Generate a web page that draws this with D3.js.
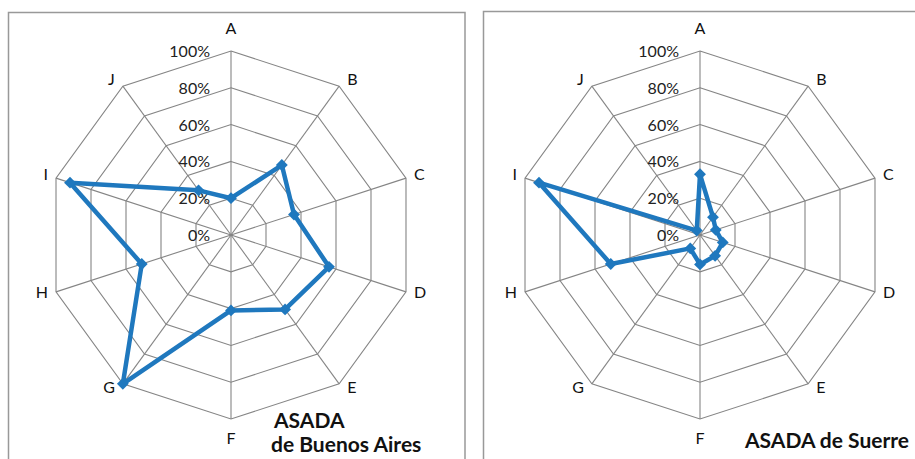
<!DOCTYPE html>
<html lang="es">
<head>
<meta charset="utf-8">
<title>ASADA radar</title>
<script src="https://cdn.jsdelivr.net/npm/d3@7"></script>
<style>
  body { margin: 0; background: #fff; }
  svg { display: block; }
</style>
</head>
<body>
<script>
// data (percent)
var categories = ["A", "B", "C", "D", "E", "F", "G", "H", "I", "J"];
var buenosAires = [20, 47, 36, 56, 50, 41, 100, 51, 92, 30];
var suerre = [33, 12, 9, 13, 14, 16, 9, 51, 92, 3];
var tickValues = [0, 20, 40, 60, 80, 100];

var width = 915, height = 459;
var radius = 184;
var blue = "#1f78be";

var svg = d3.select("body").append("svg")
    .attr("width", width)
    .attr("height", height);

// panel frames (bottom / right edges run off the picture)
svg.append("rect")
    .attr("x", 8.5).attr("y", 12.5)
    .attr("width", 456.5).attr("height", 470)
    .attr("fill", "none").attr("stroke", "#999").attr("stroke-width", 1.5);
svg.append("rect")
    .attr("x", 483.5).attr("y", 11.5)
    .attr("width", 470).attr("height", 470)
    .attr("fill", "none").attr("stroke", "#999").attr("stroke-width", 1.5);

var r = d3.scaleLinear().domain([0, 100]).range([0, radius]);
var angle = d3.scalePoint().domain(categories).range([0, 2 * Math.PI * (categories.length - 1) / categories.length]);

function drawRadar(cx, cy, values, titleLines, titleX, titleY) {
    var g = svg.append("g").attr("transform", "translate(" + cx + "," + cy + ")");

    // rings
    var ring = d3.lineRadial()
        .angle(function(d) { return angle(d); })
        .radius(function() { return 0; })
        .curve(d3.curveLinearClosed);
    tickValues.slice(1).forEach(function(t) {
        g.append("path")
            .attr("d", ring.radius(r(t))(categories))
            .attr("fill", "none")
            .attr("stroke", "#858585")
            .attr("stroke-width", 1.1);
    });

    // spokes
    g.selectAll("line.spoke")
        .data(categories)
        .enter().append("line")
        .attr("class", "spoke")
        .attr("x1", 0).attr("y1", 0)
        .attr("x2", function(d) { return Math.sin(angle(d)) * radius; })
        .attr("y2", function(d) { return -Math.cos(angle(d)) * radius; })
        .attr("stroke", "#858585")
        .attr("stroke-width", 1.1);

    // tick labels
    g.selectAll("text.tick")
        .data(tickValues)
        .enter().append("text")
        .attr("class", "tick")
        .attr("x", -21)
        .attr("y", function(d) { return -r(d) + 2; })
        .attr("dominant-baseline", "middle")
        .attr("text-anchor", "end")
        .attr("font-family", "Lato, 'Open Sans', sans-serif")
        .attr("font-size", "16px")
        .attr("fill", "#222")
        .text(function(d) { return d + "%"; });

    // category labels
    g.selectAll("text.cat")
        .data(categories)
        .enter().append("text")
        .attr("class", "cat")
        .attr("x", function(d) {
            var s = Math.sin(angle(d));
            return s * radius + (Math.abs(s) < 0.1 ? 0 : (s > 0 ? 8 : -8));
        })
        .attr("y", function(d) {
            var c = Math.cos(angle(d));
            var off = Math.abs(c) > 0.99 ? 21 : 6;
            return -c * radius - c * off;
        })
        .attr("dominant-baseline", "middle")
        .attr("text-anchor", function(d) {
            var s = Math.sin(angle(d));
            return Math.abs(s) < 0.1 ? "middle" : (s > 0 ? "start" : "end");
        })
        .attr("font-family", "Lato, 'Open Sans', sans-serif")
        .attr("font-size", "16px")
        .attr("fill", "#111")
        .text(function(d) { return d; });

    // series
    var line = d3.lineRadial()
        .angle(function(d, i) { return angle(categories[i]); })
        .radius(function(d) { return r(d); })
        .curve(d3.curveLinearClosed);
    g.append("path")
        .attr("d", line(values))
        .attr("fill", "none")
        .attr("stroke", blue)
        .attr("stroke-width", 4.5)
        .attr("stroke-linejoin", "round");

    g.selectAll("path.marker")
        .data(values)
        .enter().append("path")
        .attr("class", "marker")
        .attr("d", d3.symbol(d3.symbolSquare, 70))
        .attr("transform", function(d, i) {
            var a = angle(categories[i]);
            return "translate(" + (Math.sin(a) * r(d)) + "," + (-Math.cos(a) * r(d)) + ") rotate(45)";
        })
        .attr("fill", blue);

    // title
    var t = svg.append("text")
        .attr("font-family", "Lato, 'Open Sans', sans-serif")
        .attr("font-size", "21px")
        .attr("font-weight", "bold")
        .attr("fill", "#111");
    titleLines.forEach(function(s, i) {
        t.append("tspan")
            .attr("x", titleX[i])
            .attr("y", titleY[i])
            .text(s);
    });
}

drawRadar(231, 235, buenosAires, ["ASADA", "de Buenos Aires"], [274, 271], [428, 452]);
drawRadar(700, 235, suerre, ["ASADA de Suerre"], [745], [448]);
</script>
</body>
</html>
